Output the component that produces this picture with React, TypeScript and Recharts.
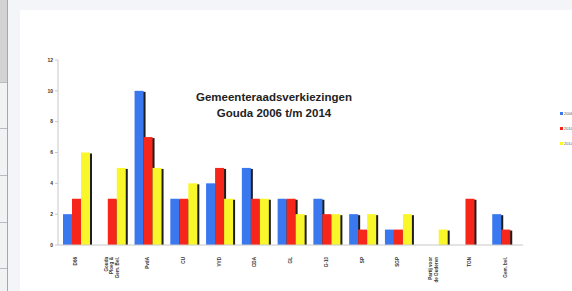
import { BarChart, Bar, XAxis, YAxis } from "recharts";

const parties = [
  "D66",
  "Gouda\nPloeg &\nGem. Bel.",
  "PvdA",
  "CU",
  "VVD",
  "CDA",
  "GL",
  "G-10",
  "SP",
  "SGP",
  "Partij voor\nde Ouderen",
  "TON",
  "Gem. bel.",
];
const seats2006 = [2, 0, 10, 3, 4, 5, 3, 3, 2, 1, 0, 0, 2];
const seats2010 = [3, 3, 7, 3, 5, 3, 3, 2, 1, 1, 0, 3, 1];
const seats2014 = [6, 5, 5, 4, 3, 3, 2, 2, 2, 2, 1, 0, 0];
const yTicks = [0, 2, 4, 6, 8, 10, 12];

const series = [
  { key: "y2006", name: "2006", color: "#3a78f0" },
  { key: "y2010", name: "2010", color: "#f7261b" },
  { key: "y2014", name: "2014", color: "#f9f72a" },
];

const data = parties.map((party, i) => ({
  party,
  y2006: seats2006[i],
  y2010: seats2010[i],
  y2014: seats2014[i],
}));

// bar with a small dark drop shadow on its right side
const ShadowBar = (props: any) => {
  const { x, y, width, height, fill } = props;
  if (!height || height <= 0) return null;
  return (
    <g>
      <rect x={x + 2} y={y + 1} width={width} height={height - 1} fill="#1e1e1e" />
      <rect x={x} y={y} width={width} height={height} fill={fill} />
    </g>
  );
};

const PartyTick = (props: any) => {
  const { x, y, payload } = props;
  const lines = String(payload.value).split("\n");
  const n = lines.length;
  return (
    <g transform={`translate(${x},${y + 4})`}>
      <text
        transform="rotate(-90)"
        textAnchor="end"
        fontSize={4.6}
        fontWeight="bold"
        fill="#333"
        fontFamily="Liberation Sans, Arial, sans-serif"
      >
        {lines.map((l, i) => (
          <tspan key={i} x={0} y={(i - (n - 1) / 2) * 5.5 + 1.6}>
            {l}
          </tspan>
        ))}
      </text>
    </g>
  );
};

const stripLines = [82, 128, 175, 222, 268];

export default function App() {
  return (
    <div
      style={{
        position: "fixed",
        left: 0,
        top: 0,
        width: 572,
        height: 291,
        overflow: "hidden",
        background: "#f3f5f8",
        fontFamily: "Liberation Sans, Arial, sans-serif",
      }}
    >
      <div style={{ position: "absolute", left: 0, top: 0, width: 7, height: 82, background: "#d2d2d2" }} />
      <div style={{ position: "absolute", left: 0, top: 82, width: 7, height: 209, background: "#f1f2f4" }} />
      {stripLines.map((t) => (
        <div key={t} style={{ position: "absolute", left: 0, top: t, width: 7, height: 1, background: "#b8bcc0" }} />
      ))}
      <div style={{ position: "absolute", left: 7, top: 0, width: 1, height: 291, background: "#a3a8ad" }} />
      <div style={{ position: "absolute", left: 20, top: 10, width: 552, height: 281, background: "#ffffff" }}>
        <BarChart
          width={552}
          height={281}
          data={data}
          margin={{ top: 50, right: 49, left: 0, bottom: 0 }}
          barCategoryGap="14%"
          barGap={0}
        >
          <XAxis
            dataKey="party"
            interval={0}
            height={46}
            tick={<PartyTick />}
            tickLine={false}
            axisLine={{ stroke: "#c8c8c8" }}
          />
          <YAxis
            width={38}
            domain={[0, 12]}
            ticks={yTicks}
            tick={{ fontSize: 5, fill: "#333", fontWeight: "bold" }}
            tickSize={3}
            tickLine={{ stroke: "#c8c8c8" }}
            axisLine={{ stroke: "#c8c8c8" }}
          />
          {series.map((s) => (
            <Bar
              key={s.key}
              dataKey={s.key}
              name={s.name}
              fill={s.color}
              shape={<ShadowBar />}
              isAnimationActive={false}
            />
          ))}
        </BarChart>
        <div
          style={{
            position: "absolute",
            left: 94,
            top: 79,
            width: 320,
            textAlign: "center",
            fontSize: 11.5,
            fontWeight: "bold",
            lineHeight: "16px",
            color: "#222",
          }}
        >
          Gemeenteraadsverkiezingen
          <br />
          Gouda 2006 t/m 2014
        </div>
        {series.map((s, i) => (
          <div
            key={s.key}
            style={{
              position: "absolute",
              left: 540,
              top: 101 + i * 15,
              display: "flex",
              alignItems: "center",
              fontSize: 4,
              color: "#555",
              whiteSpace: "nowrap",
            }}
          >
            <span style={{ display: "inline-block", width: 3, height: 3, background: s.color, marginRight: 1 }} />
            {s.name}
          </div>
        ))}
      </div>
    </div>
  );
}
